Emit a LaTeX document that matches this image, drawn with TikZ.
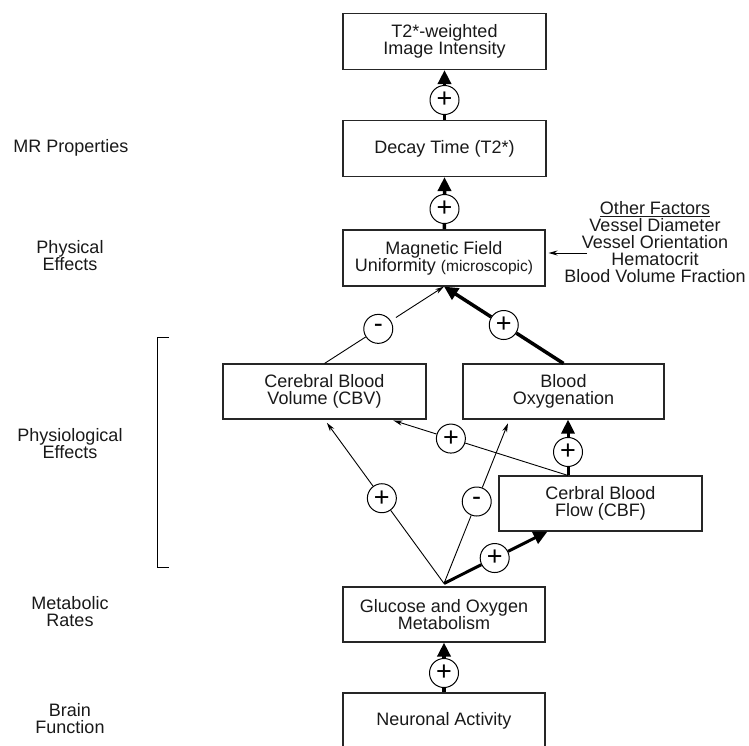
\documentclass[tikz,border=0pt]{standalone}
\usepackage{fontspec}
\setmainfont{Liberation Sans}
\usetikzlibrary{arrows.meta,calc}

\begin{document}
\begin{tikzpicture}[x=1pt,y=-1pt,
    box/.style={draw=black!85,line width=1.1pt,inner sep=0pt,minimum height=56pt,
        align=center,text=black!90,font=\fontsize{18}{17}\selectfont},
    sign/.style={draw,circle,fill=white,line width=1pt,inner sep=0pt,minimum size=29pt,
        font=\fontsize{27}{27}\selectfont},
    lbl/.style={align=center,text=black!90,font=\fontsize{18}{17}\selectfont},
    flow/.style={line width=0.9pt,-{Stealth[length=9pt,width=5pt]}},
    boldflow/.style={line width=3.5pt,-{Triangle[length=14pt,width=13pt]}}]
        \useasboundingbox (0,0) rectangle (749,745);
        %--- Boxes ---
        \node [box,minimum width=203pt] (image) at (444.5,41.5) {T2*-weighted\\Image Intensity};
        \node [box,minimum width=203pt] (decay) at (444.5,148.5) {Decay Time (T2*)};
        \node [box,minimum width=202pt] (field) at (444,258) {Magnetic Field\\Uniformity {\fontsize{15.5}{17}\selectfont(microscopic)}};
        \node [box,minimum width=203pt,minimum height=55pt] (cbv) at (324.5,391.5) {Cerebral Blood\\Volume (CBV)};
        \node [box,minimum width=201pt,minimum height=55pt] (oxy) at (563.5,391.5) {Blood\\Oxygenation};
        \node [box,minimum width=203pt,minimum height=55pt] (cbf) at (600.5,503.5) {Cerbral Blood\\Flow (CBF)};
        \node [box,minimum width=202pt,minimum height=55pt] (meta) at (444,614.5) {Glucose and Oxygen\\Metabolism};
        \node [box,minimum width=202pt] (neuro) at (444,721) {Neuronal Activity};
        %--- Free ends ---
        \coordinate (fan) at ($(meta.north)+(0,-3)$);
        \coordinate (cbfport) at ($(cbf.north)+(-32.5,0)$);
        \coordinate (oxyin) at ($(oxy.south west)+(47,0)$);
        \coordinate (cbfin) at ($(cbf.south west)+(49,0)$);
        \coordinate (cbvin) at ($(cbv.south east)+(-36,0)$);
        \coordinate (factorsout) at (587,253);
        %--- Signs ---
        \node [sign] (s1) at (444.5,100) {+};
        \node [sign] (s2) at (444.5,209) {+};
        \node [sign] (s3) at ($(cbv.north)!0.45!(field.south)$) {-};
        \node [sign] (s4) at ($(oxy.north)!0.5!(field.south)$) {+};
        \node [sign] (s5) at ($(fan)!0.52!(cbv.south)$) {+};
        \node [sign] (s6) at ($(fan)!0.5!(oxyin)$) {-};
        \node [sign] (s7) at ($(fan)!0.49!(cbfin)$) {+};
        \node [sign] (s8) at ($(cbfport)!0.66!(cbvin)$) {+};
        \node [sign] (s9) at ($(cbfport)!0.42!(oxy.south -| cbfport)$) {+};
        \node [sign] (s10) at (444,673) {+};
        %--- Connectors ---
        % MR chain
        \draw [boldflow] (decay) -- (s1) -- (image);
        \draw [boldflow] (field) -- (s2) -- (decay);
        % into field
        \draw [flow,shorten <=6pt] (cbv.north) -- (s3) -- (field.south);
        \draw [boldflow] (oxy.north) -- (s4) -- (field.south);
        \draw [flow,shorten >=3pt] (factorsout) -- (field.east |- factorsout);
        % from metabolism
        \draw [flow,shorten >=4pt] (fan) -- (s5) -- (cbv.south);
        \draw [flow,shorten >=4pt] (fan) -- (s6) -- (oxyin);
        \draw [boldflow,line width=3pt] (fan) -- (s7) -- (cbfin);
        % from flow
        \draw [flow,shorten >=3pt] (cbfport) -- (s8) -- (cbvin);
        \draw [boldflow,line width=3pt] (cbfport) -- (s9) -- (oxy.south -| cbfport);
        % brain
        \draw [boldflow] (neuro) -- (s10) -- (meta);
        %--- Other factors ---
        \node [lbl,anchor=north] (factors) at (655,198) {\underline{Other Factors}\\Vessel Diameter\\Vessel Orientation\\Hematocrit\\Blood Volume Fraction};
        %--- Left labels ---
        \node [lbl] (mr) at (71,148) {MR Properties};
        \node [lbl] (phys) at (70,256) {Physical\\Effects};
        \node [lbl] (physio) at (70,444) {Physiological\\Effects};
        \node [lbl] (metab) at (70,612) {Metabolic\\Rates};
        \node [lbl] (brain) at (70,719) {Brain\\Function};
        \draw [line width=0.9pt] (169,337) -- (157,337) -- (157,567) -- (169,567);
\end{tikzpicture}
\end{document}
